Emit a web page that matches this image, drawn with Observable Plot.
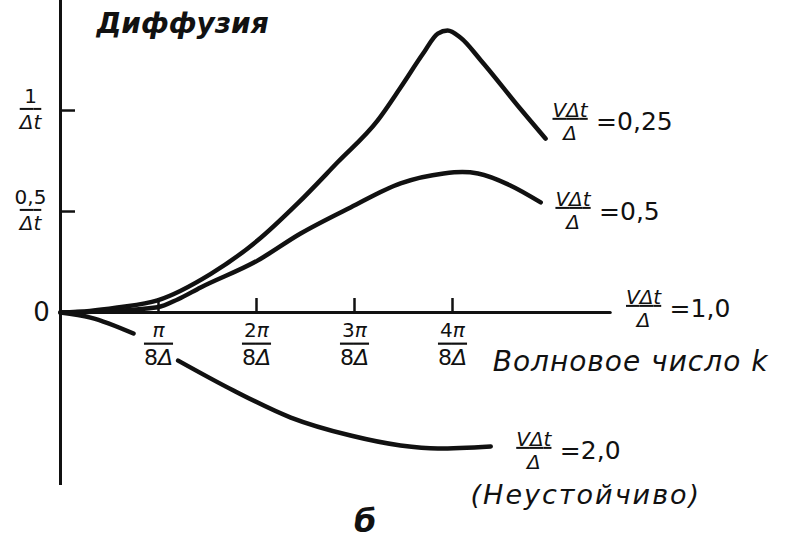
<!DOCTYPE html>
<html><head><meta charset="utf-8">
<script src="https://cdn.jsdelivr.net/npm/d3@7"></script>
<script src="https://cdn.jsdelivr.net/npm/@observablehq/plot@0.6"></script>
<style>body{margin:0;background:#fff} #chart svg{display:block;background:#fff}</style>
</head><body><div id="chart"></div>
<script>
// ---- data (k in units of π/(8Δ), damping in units of 1/Δt) ----
const seriesNames = ["0,25", "0,5", "1,0", "2,0"];
const k_025 = [0, 0.3, 0.58, 0.99, 1.53, 2.01, 2.42, 2.83, 3.235, 3.47, 3.70, 3.85, 3.95, 4.08, 4.29, 4.69, 4.95];
const d_025 = [0, 0.008, 0.025, 0.060, 0.190, 0.356, 0.540, 0.745, 0.950, 1.114, 1.282, 1.381, 1.396, 1.361, 1.248, 1.010, 0.861];
const k_05 = [0, 0.45, 0.99, 1.2, 1.43, 2.01, 2.45, 2.96, 3.47, 3.91, 4.1, 4.26, 4.59, 4.90];
const d_05 = [0, 0.006, 0.026, 0.066, 0.124, 0.257, 0.391, 0.520, 0.639, 0.688, 0.695, 0.688, 0.629, 0.545];
const k_10 = [0, 5.61];
const d_10 = [0, 0];
const k_20 = [0, 0.306, 0.745, 0.95, 1.20, 1.765, 2.35, 2.96, 3.47, 3.85, 4.39];
const d_20 = [0, -0.025, -0.104, NaN, -0.238, -0.386, -0.520, -0.609, -0.658, -0.673, -0.663];

const xTicks = [1, 2, 3, 4];
const xTickNum = ["π", "2π", "3π", "4π"];
const xTickDen = ["8Δ", "8Δ", "8Δ", "8Δ"];
const yTicks = [0.5, 1];
const yTickNum = ["0,5", "1"];
const yTickDen = ["Δt", "Δt"];
const yAxisExtent = [-0.856, 1.545];

// series label anchors (centre of the fraction bar)
const labelK = [5.20, 5.23, 5.95, 4.83];
const labelD = [0.946, 0.505, 0.02, -0.683];
const labelNum = ["VΔt", "VΔt", "VΔt", "VΔt"];
const labelDen = ["Δ", "Δ", "Δ", "Δ"];
const labelRhs = ["=0,25", "=0,5", "=1,0", "=2,0"];
const noteText = ["", "", "", "(Неустойчиво)"];

const titleText = "Диффузия";
const titlePos = [1.245, 1.426];
const xLabelText = "Волновое число k";
const xLabelPos = [4.41, -0.243];
const panelText = "б";
const panelPos = [3.11, -1.035];

// ---- build tables ----
const curveRows = [];
[[seriesNames[0], k_025, d_025], [seriesNames[1], k_05, d_05], [seriesNames[3], k_20, d_20]]
  .forEach(([s, ks, ds]) => ks.forEach((k, i) => curveRows.push({series: s, k, d: ds[i]})));
const axisRows = k_10.map((k, i) => ({series: seriesNames[2], k, d: d_10[i]}));
const labels = seriesNames.map((s, i) => ({series: s, k: labelK[i], d: labelD[i], num: labelNum[i], den: labelDen[i], rhs: labelRhs[i], note: noteText[i]}));

const W = 788, H = 542, mL = 60, mR = 42, mT = 0, mB = 30;
const xDomain = [0, 7];
const yDomain = [-0.990, 1.5446];
const pxPerX = (W - mL - mR) / (xDomain[1] - xDomain[0]);
const pxPerY = (H - mT - mB) / (yDomain[1] - yDomain[0]);
const ink = "#111";
const FF = "DejaVu Sans";

const svg = Plot.plot({
  width: W, height: H,
  marginLeft: mL, marginRight: mR, marginTop: mT, marginBottom: mB,
  x: {domain: xDomain, axis: null},
  y: {domain: yDomain, axis: null},
  style: {background: "#fff", color: ink, fontFamily: FF},
  marks: [
    // y axis
    Plot.ruleX([0], {y1: yAxisExtent[0], y2: yAxisExtent[1], stroke: ink, strokeWidth: 3}),
    // x axis = curve V∆t/∆ = 1,0
    Plot.line(axisRows, {x: "k", y: "d", stroke: ink, strokeWidth: 3}),
    // x ticks
    Plot.ruleX(xTicks, {x: d => d, y1: 0, y2: 14 / pxPerY, stroke: ink, strokeWidth: 2.5}),
    // y ticks
    Plot.ruleY(yTicks, {y: d => d, x1: 0, x2: 15 / pxPerX, stroke: ink, strokeWidth: 2.5,
      strokeDasharray: d => d === 0.5 ? "5,4" : null}),
    // curves
    Plot.line(curveRows, {x: "k", y: "d", z: "series", curve: "monotone-x", stroke: ink, strokeWidth: 4.5, strokeLinecap: "round"}),
    // x tick labels
    Plot.text(xTicks, {x: d => d, y: 0, text: (d, i) => xTickNum[i], dy: 18, fontSize: 20, fill: ink, ariaDescription: "frac"}),
    Plot.text(xTicks, {x: d => d, y: 0, text: (d, i) => xTickDen[i], dy: 45, fontSize: 22, fill: ink, ariaDescription: "fracden"}),
    // y tick labels
    Plot.text(yTicks, {x: 0, y: d => d, text: (d, i) => yTickNum[i], dx: -30, dy: -14, fontSize: 20, fill: ink, ariaDescription: "frac"}),
    Plot.text(yTicks, {x: 0, y: d => d, text: (d, i) => yTickDen[i], dx: -30, dy: 12, fontSize: 20, fill: ink, ariaDescription: "fracden"}),
    Plot.text([0], {x: 0, y: 0, text: ["0"], dx: -19, fontSize: 26, fill: ink}),
    // series labels
    Plot.text(labels, {x: "k", y: "d", text: "num", dy: -11, fontSize: 20, fill: ink, ariaDescription: "fracnum"}),
    Plot.text(labels, {x: "k", y: "d", text: "den", dy: 12, fontSize: 20, fill: ink, ariaDescription: "frac"}),
    Plot.text(labels, {x: "k", y: "d", text: "rhs", dx: 26, dy: 1, textAnchor: "start", fontSize: 25, fill: ink}),
    Plot.text(labels, {x: "k", y: "d", text: "note", dx: 52, dy: 45, fontSize: 27, fontStyle: "italic", fill: ink, ariaDescription: "spaced"}),
    // titles
    Plot.text([titleText], {x: titlePos[0], y: titlePos[1], text: d => d, fontSize: 28, fontWeight: "bold", fontStyle: "italic", fill: ink}),
    Plot.text([xLabelText], {x: xLabelPos[0], y: xLabelPos[1], text: d => d, textAnchor: "start", fontSize: 28, fontStyle: "italic", fill: ink, ariaDescription: "spaced1"}),
    Plot.text([panelText], {x: panelPos[0], y: panelPos[1], text: d => d, fontSize: 32, fontWeight: "bold", fontStyle: "italic", fill: ink})
  ]
});

// fraction bars, italic letters, letter spacing
const root = d3.select(svg);
root.selectAll('g[aria-description^="frac"] text').each(function () {
  const s = this.textContent;
  this.textContent = "";
  for (const ch of s) {
    const t = d3.select(this).append("tspan").text(ch);
    if (/[πΔtVk]/.test(ch)) t.attr("font-style", "italic");
  }
});
root.selectAll('g[aria-description="fracnum"] text').attr("text-decoration", "underline");
root.selectAll('g[aria-description="fracden"] text').attr("text-decoration", "overline");
root.selectAll('g[aria-description="spaced"] text').style("letter-spacing", "2px");
root.selectAll('g[aria-description="spaced1"] text').style("letter-spacing", "1px");
document.getElementById("chart").append(svg);
</script>
</body></html>
